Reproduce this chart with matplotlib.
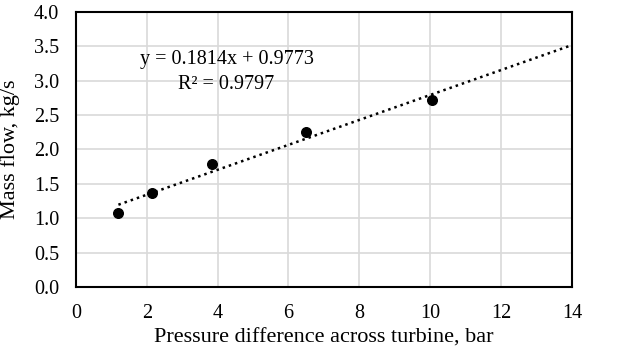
import matplotlib.pyplot as plt
import numpy as np

plt.rcParams['font.family'] = ['Liberation Serif', 'DejaVu Serif']

# measured points
dp = [1.2, 2.15, 3.85, 6.5, 10.05]
mflow = [1.08, 1.37, 1.78, 2.25, 2.72]

# linear trendline as reported
slope = 0.1814
intercept = 0.9773
r2 = 0.9797
trend_x = [1.2, 14]

fig = plt.figure(figsize=(6.17, 3.49), dpi=100)
ax = fig.add_axes([0.123, 0.178, 0.804, 0.788])

tx = np.array(trend_x)
ax.plot(tx, slope * tx + intercept, color='black', linestyle=(0, (1, 1.6)), linewidth=1.8, zorder=3)
ax.scatter(dp, mflow, s=48, color='black', zorder=4)

ax.text(4.25, 3.30, 'y = %.4fx + %.4f' % (slope, intercept), ha='center', va='center', fontsize=14.5)
ax.text(4.25, 2.94, 'R² = %.4f' % r2, ha='center', va='center', fontsize=14.5)

ax.set_xlim(0, 14)
ax.set_ylim(0, 4.0)
ax.set_xticks(np.arange(0, 15, 2))
ax.set_yticks(np.arange(0, 4.01, 0.5))
ax.set_yticklabels(['%.1f' % v for v in np.arange(0, 4.01, 0.5)])
ax.grid(True, color='#d9d9d9', linewidth=1.2)
ax.set_axisbelow(True)
for s in ax.spines.values():
    s.set_linewidth(1.5)
    s.set_color('black')
ax.tick_params(length=0, labelsize=14.5, pad=12)

ax.set_xlabel('Pressure difference across turbine, bar', fontsize=16)
ax.set_ylabel('Mass flow, kg/s', fontsize=16)
ax.xaxis.set_label_coords(0.5, -0.153)
ax.yaxis.set_label_coords(-0.112, 0.5)

fig.savefig('out.png', dpi=100)
